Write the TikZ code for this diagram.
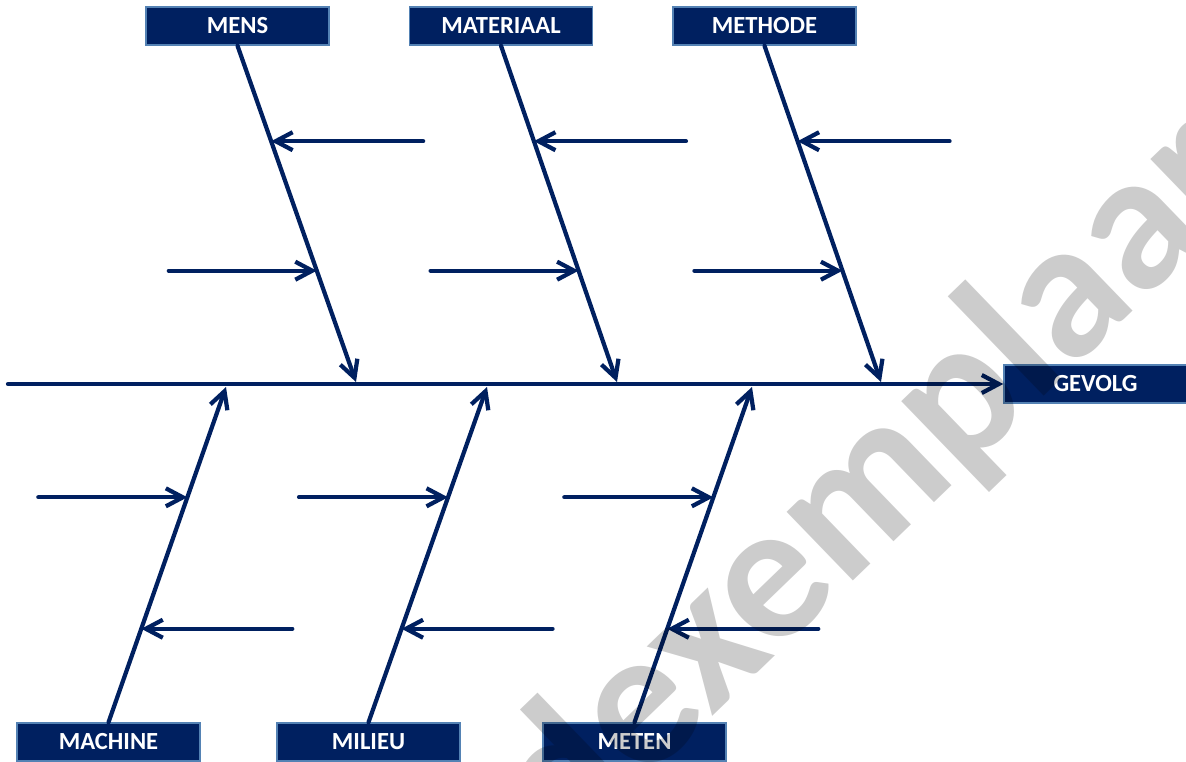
\documentclass[tikz,border=0pt]{standalone}
\usepackage{fontspec}
\setmainfont{Carlito}
\usetikzlibrary{arrows.meta,calc}
\definecolor{navy}{RGB}{0,32,96}
\definecolor{rim}{RGB}{84,130,180}

\begin{document}
\begin{tikzpicture}[x=0.2mm,y=-0.2mm,line cap=round,
 >={Straight Barb[length=3.4mm,width=3.6mm]},
 cat/.style={draw=rim,line width=0.8pt,fill=navy,text=white,inner sep=0pt,
  minimum width=36.6mm,minimum height=7.6mm,font=\bfseries\fontsize{14}{16}\selectfont},
 bone/.style={->,navy,line width=2.4pt}]
\useasboundingbox (0,0) rectangle (1186,761);
\clip (0,0) rectangle (1186,761);

% category boxes
\node[cat] (mens) at (237.5,26) {MENS};
\node[cat] (materiaal) at (501,26) {MATERIAAL};
\node[cat] (methode) at (764.5,26) {METHODE};
\node[cat] (machine) at (108.5,742) {MACHINE};
\node[cat] (milieu) at (368.5,742) {MILIEU};
\node[cat] (meten) at (634.5,742) {METEN};
\node[cat] (gevolg) at (1095.5,384) {GEVOLG};

% spine
\coordinate (staart) at (8,384);
\draw[bone] (staart) -- (gevolg.west);

% upper bones
\coordinate (mensEnd) at (356,382);
\coordinate (materiaalEnd) at (617,382);
\coordinate (methodeEnd) at (881,382);
\foreach \c in {mens,materiaal,methode}{
  \coordinate (\c A) at ($(\c.south)!0.284!(\c End)$);
  \coordinate (\c B) at ($(\c.south)!0.669!(\c End)$);
  \coordinate (\c A0) at ($(\c A)+(152,0)$);
  \coordinate (\c B0) at ($(\c B)+(-148,0)$);
  \draw[bone] (\c.south) -- (\c End);
  \draw[bone] (\c A0) -- (\c A);
  \draw[bone] (\c B0) -- (\c B);
}

% lower bones
\coordinate (machineEnd) at (226,387);
\coordinate (milieuEnd) at (487,387);
\coordinate (metenEnd) at (752,387);
\foreach \c in {machine,milieu,meten}{
  \coordinate (\c A) at ($(\c.north)!0.671!(\c End)$);
  \coordinate (\c B) at ($(\c.north)!0.279!(\c End)$);
  \coordinate (\c A0) at ($(\c A)+(-149,0)$);
  \coordinate (\c B0) at ($(\c B)+(151,0)$);
  \draw[bone] (\c.north) -- (\c End);
  \draw[bone] (\c A0) -- (\c A);
  \draw[bone] (\c B0) -- (\c B);
}

% stamp across the sheet
\node[rotate=44,opacity=0.2,font=\bfseries\fontsize{112}{112}\selectfont] (stempel) at (876,484) {dexemplaar};
\end{tikzpicture}
\end{document}
